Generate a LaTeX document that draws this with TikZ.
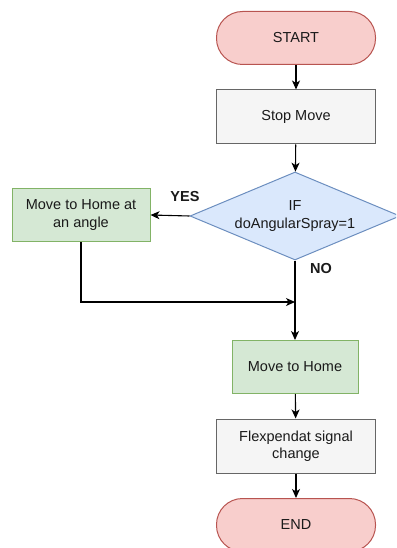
\documentclass[tikz,border=0pt]{standalone}
\usepackage{fontspec}
\setmainfont{Liberation Sans}
\usetikzlibrary{shapes.geometric,arrows.meta}
\definecolor{redfill}{HTML}{F8CECC}
\definecolor{redline}{HTML}{B85450}
\definecolor{grayfill}{HTML}{F5F5F5}
\definecolor{grayline}{HTML}{666666}
\definecolor{greenfill}{HTML}{D5E8D4}
\definecolor{greenline}{HTML}{82B366}
\definecolor{bluefill}{HTML}{DAE8FC}
\definecolor{blueline}{HTML}{6C8EBF}
\definecolor{ink}{HTML}{1A1A1A}
\begin{document}
\begin{tikzpicture}[x=1pt,y=-1pt,
  every node/.style={font=\fontsize{14.5}{17.5}\selectfont, text=ink, align=center, inner sep=0pt},
  terminal/.style={rectangle, rounded corners=26pt, fill=redfill, draw=redline, line width=1pt, minimum width=159pt, minimum height=53pt},
  process/.style={rectangle, fill=grayfill, draw=grayline, line width=1pt, minimum width=159pt, minimum height=54pt},
  action/.style={rectangle, fill=greenfill, draw=greenline, line width=1pt, minimum height=53pt},
  decision/.style={diamond, aspect=2.4, fill=bluefill, draw=blueline, line width=1pt, minimum width=210pt, minimum height=88pt},
  flow/.style={draw=black, line width=1.1pt, -{Stealth[length=9pt,width=8pt,inset=2.5pt]}},
  answer/.style={font=\fontsize{14.5}{17.5}\selectfont\bfseries}
]
\useasboundingbox (0,0) rectangle (396,548);
\clip (0,0) rectangle (396,548);

\node[terminal] (start) at (296,38) {START};
\node[process] (stop) at (296,117) {Stop Move};
\node[decision] (dec) at (295,216) {IF\\doAngularSpray=1};
\node[action, minimum width=138pt] (angle) at (81,215) {Move to Home at\\an angle};
\node[action, minimum width=126pt] (home) at (295,367) {Move to Home};
\node[process] (flex) at (296,446) {Flexpendat signal\\change};
\node[terminal] (end) at (296,525) {END};

\node[answer] (yes) at (185,197) {YES};
\node[answer] (no) at (321,269) {NO};

\coordinate (bend) at (angle.south |- 0,302);
\coordinate (merge) at (dec.south |- 0,302);

\draw[flow] (start) -- (stop);
\draw[flow] (stop) -- (dec);
\draw[flow] (dec.west) -- (angle.east);
\draw[flow] (dec.south) -- (home.north);
\draw[flow] (angle.south) -- (bend) -- (merge);
\draw[flow] (home) -- (flex);
\draw[flow] (flex) -- (end);
\end{tikzpicture}
\end{document}
